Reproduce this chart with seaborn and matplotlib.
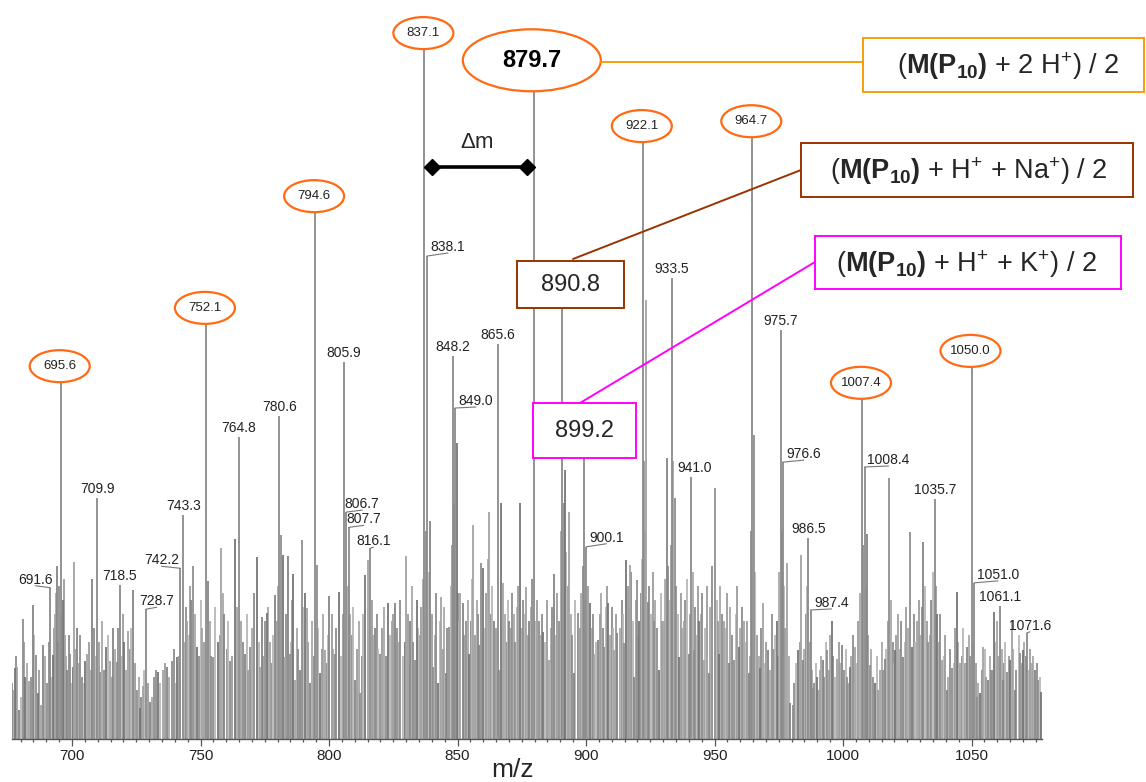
import matplotlib
matplotlib.use("Agg")
import matplotlib.pyplot as plt
from matplotlib.patches import Ellipse, Rectangle
from matplotlib.ticker import MultipleLocator
import pandas as pd
import seaborn as sns

# ---- annotated peaks (m/z, relative intensity in %) ----
peak_mz = [691.6, 695.6, 709.9, 718.5, 728.7, 742.2, 743.3, 752.1, 764.8, 780.6,
           794.6, 805.9, 806.7, 807.7, 816.1, 837.1, 838.1, 848.2, 849.0, 865.6,
           879.7, 890.8, 899.2, 900.1, 922.1, 933.5, 941.0, 964.7, 975.7, 976.6,
           986.5, 987.4, 1007.4, 1008.4, 1035.7, 1050.0, 1051.0, 1061.1, 1071.6]
peak_int = [21.8, 52.0, 34.7, 22.2, 18.7, 24.6, 32.3, 60.4, 43.5, 46.5,
            76.5, 54.3, 32.7, 30.5, 27.5, 100.0, 69.6, 55.2, 47.7, 56.9,
            93.2, 63.3, 42.4, 27.7, 86.6, 66.4, 37.8, 87.3, 58.9, 39.9,
            29.0, 18.6, 49.6, 39.2, 34.6, 54.2, 22.5, 19.2, 15.3]

# the P10 series (ringed) and the adduct ions (boxed)
series_peaks = [695.6, 752.1, 794.6, 837.1, 922.1, 964.7, 1007.4, 1050.0]
main_peak = 879.7
na_peak = 890.8
k_peak = 899.2

# ---- unlabelled peaks of medium height ----
bg_mz = [676.7, 677.8, 678.6, 679.4, 680.9, 681.7, 683.3, 684.8, 686.0, 686.8,
         687.9, 688.7, 690.3, 692.6, 693.5, 694.3, 695.1, 696.4, 697.2, 698.1,
         699.2, 700.4, 700.8, 701.9, 703.9, 705.1, 705.8, 707.8, 710.9, 713.2,
         714.8, 716.0, 717.5, 720.2, 721.8, 723.7, 725.3, 726.5, 727.6, 730.4,
         731.9, 733.5, 735.4, 737.0, 738.9, 740.9, 744.7, 746.2, 747.1, 748.6,
         750.6, 752.9, 754.9, 756.8, 758.0, 759.1, 761.5, 763.4, 765.9, 767.3,
         769.3, 772.0, 773.2, 773.9, 775.1, 775.9, 777.0, 779.0, 781.4, 782.1,
         782.9, 784.0, 784.8, 786.0, 786.8, 788.7, 789.5, 790.7, 791.4, 792.6,
         795.3, 796.5, 798.4, 800.0, 802.3, 803.9, 808.2, 810.1, 812.1, 814.0,
         815.2, 817.9, 819.8, 823.0, 824.5, 825.7, 826.5, 829.5, 830.0, 831.5,
         833.4, 834.2, 835.3, 839.3, 840.5, 842.4, 843.6, 845.6, 846.7, 849.7,
         851.0, 852.1, 853.3, 854.6, 856.0, 858.5, 859.1, 860.0, 862.3, 864.3,
         866.3, 866.9, 867.7, 870.2, 871.2, 874.3, 876.7, 877.9, 881.8, 883.3,
         885.7, 887.5, 889.6, 891.8, 893.4, 895.4, 896.9, 901.6, 903.2, 904.7,
         907.1, 908.6, 911.0, 912.1, 914.8, 915.6, 917.1, 918.7, 919.8, 920.7,
         923.3, 924.1, 926.5, 928.4, 930.4, 931.5, 934.6, 936.2, 938.1, 940.1,
         942.0, 944.0, 945.9, 947.9, 950.2, 951.7, 953.7, 955.6, 957.6, 959.5,
         961.5, 963.4, 965.4, 967.7, 968.9, 970.8, 972.4, 974.2, 978.2, 979.4,
         980.5, 982.5, 983.7, 984.4, 988.3, 989.9, 991.1, 992.2, 993.8, 995.7,
         997.7, 999.6, 1001.6, 1002.7, 1004.7, 1009.3, 1010.5, 1012.5, 1014.4, 1016.3,
         1017.9, 1020.2, 1021.4, 1023.3, 1026.1, 1026.8, 1028.8, 1031.1, 1033.1, 1036.6,
         1038.5, 1040.5, 1042.4, 1044.4, 1045.5, 1048.2, 1052.1, 1053.3, 1054.5, 1056.4,
         1058.0, 1058.8, 1059.9, 1062.3, 1063.8, 1065.0, 1065.8, 1066.9, 1068.9, 1070.0,
         1073.5, 1074.7, 1075.9, 1077.0]
bg_int = [8.0, 10.2, 10.4, 4.2, 17.3, 9.0, 8.3, 19.3, 12.1, 6.6,
          4.9, 13.5, 8.0, 12.1, 18.0, 25.0, 22.0, 20.0, 15.0, 9.9,
          12.3, 10.4, 25.5, 16.0, 9.0, 11.3, 12.3, 23.1, 9.7, 13.3,
          11.3, 16.0, 11.1, 14.0, 15.5, 21.5, 7.1, 4.5, 7.6, 5.3,
          9.0, 9.6, 9.9, 10.4, 11.3, 11.8, 17.0, 20.0, 24.9, 13.3,
          16.0, 22.8, 11.8, 14.0, 27.5, 18.0, 11.3, 28.8, 17.0, 12.3,
          13.3, 26.2, 10.4, 17.6, 17.0, 18.2, 14.0, 20.7, 29.4, 26.5,
          11.8, 26.4, 12.3, 23.8, 8.5, 9.9, 28.7, 21.0, 18.9, 8.0,
          25.1, 9.5, 12.8, 20.6, 12.3, 21.2, 18.0, 8.5, 6.6, 23.6,
          25.8, 16.0, 12.3, 19.6, 17.0, 19.6, 16.0, 14.0, 26.4, 17.0,
          11.4, 20.0, 15.0, 31.4, 10.4, 8.0, 20.5, 9.5, 16.1, 42.7,
          21.0, 19.6, 17.0, 12.3, 30.8, 13.5, 25.4, 24.6, 32.7, 17.0,
          9.9, 34.0, 22.5, 17.0, 21.0, 34.0, 21.9, 17.0, 17.0, 15.4,
          11.4, 23.8, 17.0, 38.8, 32.7, 9.5, 18.2, 19.6, 12.3, 14.3,
          13.3, 19.6, 12.8, 15.3, 13.8, 25.8, 25.1, 9.0, 22.9, 17.0,
          63.3, 19.7, 17.0, 9.9, 17.0, 40.5, 34.7, 11.8, 17.0, 12.3,
          12.8, 17.0, 11.4, 9.5, 36.2, 12.3, 17.0, 10.9, 11.4, 13.3,
          17.0, 9.5, 43.8, 10.2, 19.6, 12.8, 18.0, 17.0, 25.4, 5.2,
          4.9, 12.8, 26.5, 11.4, 7.3, 9.0, 9.9, 11.4, 12.8, 17.0,
          11.6, 13.5, 9.0, 10.4, 13.3, 29.5, 10.7, 8.1, 9.9, 11.6,
          37.6, 12.8, 18.0, 11.8, 29.8, 13.3, 17.0, 28.4, 14.0, 18.0,
          11.4, 7.1, 10.2, 21.2, 10.9, 13.3, 6.1, 6.6, 13.3, 8.5,
          9.9, 18.3, 17.0, 8.5, 9.7, 11.4, 17.1, 7.1, 12.4, 12.8,
          10.9, 9.9, 8.5, 6.8]

# ---- low-level chemical noise, (m/z, %) ----
grass_low = [(677.2, 7), (678.1, 12), (680.1, 6), (681.2, 14), (682.5, 11), (684.0, 9),
             (685.4, 15), (687.3, 10), (689.4, 12), (691.0, 14), (692.0, 9), (693.0, 16),
             (693.9, 21), (694.7, 14), (695.8, 18), (696.9, 23), (697.7, 12), (698.7, 15),
             (699.7, 8), (701.3, 13), (702.6, 11), (703.3, 15), (704.5, 8), (706.5, 14),
             (707.2, 10), (708.5, 16), (709.3, 12), (710.4, 14), (711.6, 17), (712.4, 10),
             (714.0, 15), (715.5, 9), (716.7, 13), (718.0, 16), (719.3, 12), (719.9, 18),
             (721.0, 10), (722.6, 13), (723.0, 16), (724.5, 11), (726.0, 9), (727.0, 6),
             (728.2, 10), (729.4, 8), (731.1, 6), (732.7, 10), (734.3, 8), (736.2, 11),
             (737.8, 9), (739.7, 13), (740.3, 8), (741.6, 12), (743.9, 14), (744.2, 19),
             (745.4, 15)]
grass_mid = [(745.9, 22), (747.8, 18), (749.4, 12), (750.0, 20), (751.4, 14), (753.5, 17),
             (754.2, 12), (755.6, 19), (757.4, 15), (758.6, 21), (760.2, 13), (760.8, 17),
             (762.2, 12), (764.1, 19), (766.6, 14), (768.0, 18), (768.6, 10), (770.1, 16),
             (770.8, 21), (772.6, 14), (774.5, 12), (776.4, 19), (777.6, 11), (778.3, 15),
             (779.7, 17), (780.2, 22), (783.4, 18), (785.3, 14), (785.5, 20), (787.4, 16),
             (788.1, 13), (790.0, 19), (792.0, 14), (793.2, 17), (794.0, 12), (795.9, 16),
             (797.1, 13), (797.8, 18), (799.1, 11), (799.5, 15), (801.1, 18), (801.7, 13),
             (802.9, 16), (804.6, 12), (805.3, 18), (807.2, 22), (808.8, 15), (809.5, 19),
             (811.0, 13), (811.6, 17), (812.7, 12), (813.4, 18), (816.6, 20), (817.2, 15),
             (818.5, 18), (819.2, 13), (820.5, 16), (821.3, 19), (822.0, 12), (823.7, 15),
             (824.9, 18), (827.1, 14), (827.8, 20), (828.6, 12)]
grass_core = [(830.8, 18), (832.1, 22), (832.8, 14), (834.8, 16), (835.9, 19), (836.5, 23),
              (837.7, 30), (838.8, 24), (840.0, 18), (841.1, 15), (841.8, 21), (843.0, 17),
              (844.3, 13), (844.9, 19), (846.1, 16), (847.3, 22), (847.9, 28), (848.7, 34),
              (850.3, 21), (850.6, 17), (852.7, 15), (853.9, 20), (855.2, 17), (855.6, 23),
              (857.0, 15), (857.6, 20), (858.0, 18), (860.6, 16), (861.2, 21), (861.8, 26),
              (863.0, 18), (863.6, 22), (865.0, 16), (868.6, 18), (869.2, 14), (869.7, 20),
              (870.7, 16), (871.8, 18), (872.5, 14), (873.1, 19), (873.7, 22), (875.0, 16),
              (875.5, 20), (876.1, 18), (877.3, 15), (878.5, 19), (879.1, 23), (880.3, 17),
              (881.0, 20), (882.4, 15), (883.0, 18), (884.1, 14), (884.8, 20), (886.2, 16),
              (886.9, 19), (888.2, 15), (888.8, 21), (890.2, 30), (891.3, 34), (892.3, 27),
              (892.8, 22), (894.0, 18), (894.7, 15), (895.9, 20), (897.5, 16), (898.1, 21),
              (898.7, 25), (899.8, 20), (900.6, 22), (902.2, 16), (902.7, 18), (903.8, 14),
              (905.4, 18), (906.0, 21), (906.5, 16), (907.7, 19), (908.1, 22), (909.4, 15),
              (910.1, 19), (910.6, 16), (911.6, 18), (913.3, 16), (913.9, 20), (914.3, 18),
              (916.3, 22), (916.6, 19), (917.6, 24), (918.2, 17), (919.3, 20), (920.2, 15),
              (921.3, 21), (921.7, 26), (922.6, 40), (922.9, 30), (924.7, 22), (925.3, 18),
              (925.9, 24), (927.0, 20), (927.7, 16), (929.0, 21), (929.6, 17), (930.9, 23),
              (932.0, 25), (932.7, 20), (933.0, 28), (934.0, 40), (935.1, 22), (935.7, 18),
              (936.8, 21), (937.5, 16), (938.7, 20), (939.3, 23), (940.6, 18), (941.5, 24),
              (942.5, 19), (943.2, 15), (943.6, 22), (944.6, 18), (945.2, 21), (946.4, 16),
              (947.0, 22), (948.4, 19), (949.1, 25), (950.8, 20), (951.2, 17), (952.3, 22),
              (953.0, 18), (954.2, 16), (954.8, 21), (956.1, 19), (956.8, 15), (958.2, 18),
              (958.8, 22), (960.0, 16), (960.7, 19)]
grass_high = [(962.1, 14), (962.7, 17), (963.9, 12), (964.2, 30), (965.9, 24), (966.4, 15),
              (967.2, 12), (968.2, 16), (969.5, 11), (970.2, 14), (971.5, 10), (973.0, 13),
              (973.6, 15), (974.8, 12), (975.2, 24), (976.1, 30), (977.1, 22), (977.6, 16),
              (978.8, 12), (981.0, 8), (981.7, 11), (983.1, 14), (985.0, 13), (985.7, 18),
              (986.0, 22), (987.0, 14), (987.8, 10), (988.8, 8), (989.4, 11), (990.5, 7),
              (991.6, 12), (992.7, 9), (993.2, 14), (994.4, 10), (995.0, 15), (996.3, 12),
              (997.0, 9), (998.3, 14), (999.0, 11), (1000.3, 10), (1001.0, 13), (1002.1, 8),
              (1003.3, 12), (1003.9, 15), (1005.4, 11), (1006.0, 17), (1006.8, 21), (1007.9, 28),
              (1008.9, 22), (1009.8, 15), (1011.0, 13), (1011.7, 9), (1013.1, 12), (1013.7, 7),
              (1015.0, 14), (1015.7, 10), (1016.9, 13), (1017.4, 17), (1018.6, 20), (1019.3, 14),
              (1019.7, 11), (1020.8, 15), (1022.0, 13), (1022.7, 17), (1024.0, 14), (1024.6, 19),
              (1025.3, 16), (1027.5, 18), (1028.2, 14), (1029.4, 20), (1030.1, 15), (1030.6, 19),
              (1031.8, 22), (1032.5, 17), (1033.8, 15), (1034.4, 20), (1035.1, 24), (1036.2, 22),
              (1037.3, 14), (1037.9, 18), (1039.2, 12), (1039.8, 15), (1041.0, 9), (1041.7, 13),
              (1043.0, 11), (1043.7, 16), (1044.9, 14), (1046.2, 12), (1046.8, 16), (1047.5, 11),
              (1049.0, 15), (1049.5, 12), (1050.5, 14), (1051.6, 11), (1052.6, 8), (1054.0, 10),
              (1055.1, 13), (1055.8, 9), (1057.1, 12), (1057.6, 10), (1059.3, 14), (1060.5, 12),
              (1061.7, 13), (1062.8, 11), (1063.2, 14), (1064.4, 12), (1066.3, 13), (1067.5, 10),
              (1068.3, 15), (1069.5, 11), (1070.6, 14), (1071.1, 12), (1072.2, 10), (1072.8, 13),
              (1074.1, 12), (1075.3, 11), (1076.5, 9)]

# ---- ion assignments ----
label_2h = r"($\mathbf{M(P_{10})}$ + 2 H$^{+}$) / 2"
label_na = r"($\mathbf{M(P_{10})}$ + H$^{+}$ + Na$^{+}$) / 2"
label_k = r"($\mathbf{M(P_{10})}$ + H$^{+}$ + K$^{+}$) / 2"

# ---- style ----
W, H = 1146, 782
RING = "#ff6a13"
AMBER = "#f59e0b"
BROWN = "#993300"
MAGENTA = "#ff00ff"
STEM = "#8a8a8a"

sns.set_theme(style="white")
plt.rcParams["font.family"] = ["Liberation Sans", "DejaVu Sans"]
plt.rcParams["mathtext.fontset"] = "custom"
plt.rcParams["mathtext.rm"] = "Liberation Sans"
plt.rcParams["mathtext.bf"] = "Liberation Sans:bold"
plt.rcParams["mathtext.it"] = "Liberation Sans:italic"

fig = plt.figure(figsize=(W / 100, H / 100), dpi=100)
ax = fig.add_axes([12 / W, (H - 739) / H, 1030 / W, 739 / H])
ax.set_xlim(676.65, 1077.43)
ax.set_ylim(0, 106.5)

grass = pd.DataFrame(grass_low + grass_mid + grass_core + grass_high,
                     columns=["mz", "intensity"])
bg = pd.DataFrame({"mz": bg_mz, "intensity": bg_int})
pk = pd.DataFrame({"mz": peak_mz, "intensity": peak_int})

shades = ["#a8a8a8", "#8e8e8e", "#b8b8b8", "#9c9c9c"]
for i, sh in enumerate(shades):
    part = grass.iloc[i::len(shades)]
    ax.vlines(part["mz"], 0, part["intensity"], colors=sh, lw=1.3, zorder=1)
shades_bg = ["#8f8f8f", "#767676", "#a3a3a3", "#858585"]
for i, sh in enumerate(shades_bg):
    part = bg.iloc[i::len(shades_bg)]
    ax.vlines(part["mz"], 0, part["intensity"], colors=sh, lw=1.3, zorder=2)
ax.vlines(pk["mz"], 0, pk["intensity"], colors=STEM, lw=1.3, zorder=3)

sns.despine(ax=ax, left=True, top=True, right=True)
ax.spines["bottom"].set_color("#555555")
ax.spines["bottom"].set_linewidth(1.0)
ax.set_yticks([])
ax.set_xticks(range(700, 1051, 50))
ax.xaxis.set_minor_locator(MultipleLocator(5))
ax.tick_params(axis="x", which="both", bottom=True, direction="out",
               color="#555555", width=0.9)
ax.tick_params(axis="x", which="major", length=5, labelsize=11, pad=2,
               labelcolor="#222222")
ax.tick_params(axis="x", which="minor", length=2.5)
fig.text(513 / W, 1 - 770 / H, "m/z", ha="center", va="center", fontsize=19)

# overlay in figure pixels for labels and call-outs
ov = fig.add_axes([0, 0, 1, 1], zorder=5)
ov.set_xlim(0, W)
ov.set_ylim(H, 0)
ov.axis("off")
ov.patch.set_alpha(0)


def top_px(mz, inten):
    x, y = ax.transData.transform((mz, inten))
    return x, H - y


# label placement: (dx, dy) in pixels from the peak top, with leader line
label_layout = {
    691.6: (-15, 8, True), 742.2: (-19, 8, True), 728.7: (11, 8, True),
    838.1: (21, 9, True), 849.0: (21, 7, True), 806.7: (16, 8, True),
    807.7: (15, 8, True), 816.1: (3, 7, True), 900.1: (20, 9, True),
    976.6: (21, 8, True), 1008.4: (24, 7, True), 987.4: (21, 7, True),
    1051.0: (24, 8, True), 1071.6: (3, 7, True), 941.0: (3, 9, False),
}

for mz, inten in zip(peak_mz, peak_int):
    px, py = top_px(mz, inten)
    txt = f"{mz:.1f}"
    if mz in series_peaks:
        cx, cy = px - 1, py - 12
        ov.add_patch(Ellipse((cx, cy), 60, 32, facecolor="white",
                             edgecolor=RING, lw=1.6))
        ov.text(cx, cy, txt, ha="center", va="center", fontsize=9.5,
                color="#222222")
    elif mz == main_peak:
        cx, cy = px - 2, py - 32
        ov.add_patch(Ellipse((cx, cy), 138, 62, facecolor="white",
                             edgecolor=RING, lw=1.6))
        ov.text(cx, cy, txt, ha="center", va="center", fontsize=17,
                fontweight="bold", color="black")
        ov.plot([cx + 69, 863], [cy + 2, cy + 2], color=AMBER, lw=1.4)
    elif mz in (na_peak, k_peak):
        continue
    else:
        dx, dy, leader = label_layout.get(mz, (0, 9, False))
        lx, ly = px + dx, py - dy
        ov.text(lx, ly, txt, ha="center", va="center", fontsize=10,
                color="#222222")
        if leader:
            ov.plot([px, lx], [py, ly + 6], color="#777777", lw=0.8)

# adduct call-out boxes
na_txt = f"{na_peak:.1f}"
k_txt = f"{k_peak:.1f}"
ov.add_patch(Rectangle((517, 261), 107, 47, facecolor="white",
                       edgecolor=BROWN, lw=1.4))
ov.text(570.5, 285, na_txt, ha="center", va="center", fontsize=17)
ov.add_patch(Rectangle((533, 403), 103, 55, facecolor="white",
                       edgecolor=MAGENTA, lw=1.4))
ov.text(584.5, 431, k_txt, ha="center", va="center", fontsize=17)

ov.plot([573, 801], [259, 170], color=BROWN, lw=1.4)
ov.plot([580, 815], [403, 262], color=MAGENTA, lw=1.4)

ov.add_patch(Rectangle((863, 38), 281, 54, facecolor="white",
                       edgecolor=AMBER, lw=1.4))
ov.text(1008, 66, label_2h, ha="center", va="center", fontsize=19.5)
ov.add_patch(Rectangle((801, 143), 332, 54, facecolor="white",
                       edgecolor=BROWN, lw=1.4))
ov.text(969, 171, label_na, ha="center", va="center", fontsize=19.5)
ov.add_patch(Rectangle((815, 236), 306, 53, facecolor="white",
                       edgecolor=MAGENTA, lw=1.4))
ov.text(967, 264, label_k, ha="center", va="center", fontsize=19.5)

# mass difference between the 2+ and 3+ ions
ov.plot([432, 527], [167, 167], color="black", lw=2.6, marker="D",
        markersize=8, solid_capstyle="butt")
ov.text(477, 143, r"$\Delta$m", ha="center", va="center", fontsize=16)

fig.savefig("out.png", dpi=100, facecolor="white")
